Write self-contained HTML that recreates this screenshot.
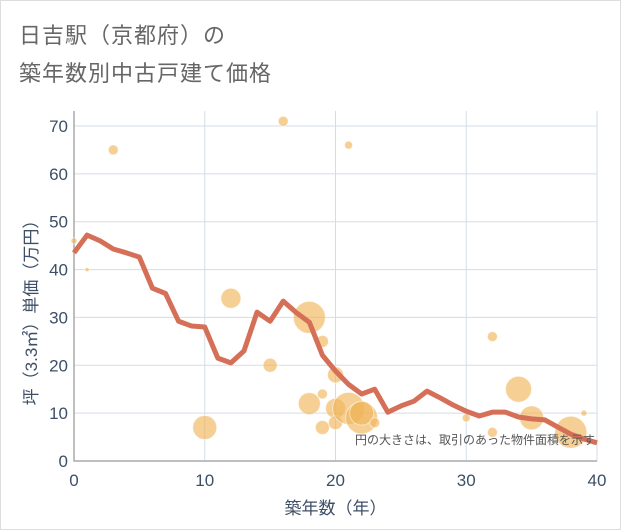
<!DOCTYPE html>
<html><head><meta charset="utf-8"><style>
body{margin:0;background:#fff;}
#wrap{position:relative;width:621px;height:530px;border:1px solid #ddd;box-sizing:border-box;font-family:"Liberation Sans","Noto Sans CJK JP",sans-serif;}
.t{position:absolute;left:18px;font-size:22px;color:#666;letter-spacing:1px;}
</style></head><body>
<div id="wrap">
<div class="t" style="top:17px">日吉駅（京都府）の</div>
<div class="t" style="top:55px">築年数別中古戸建て価格</div>
<svg id="c" width="621" height="530" style="position:absolute;left:0;top:0"></svg>
</div>
<script>
const lineYears=[0,1,2,3,4,5,6,7,8,9,10,11,12,13,14,15,16,17,18,19,20,21,22,23,24,25,26,27,28,29,30,31,32,33,34,35,36,37,38,39,40];
const lineValues=[43.5,47.2,46,44.3,43.5,42.6,36.1,35,29.2,28.2,28,21.5,20.5,23,31.1,29.2,33.4,31,29,22.1,18.8,16,14,15,10.2,11.5,12.5,14.6,13.2,11.7,10.4,9.4,10.2,10.2,9.2,8.8,8.6,7.1,5.6,4.6,3.8];
const bubbleX=[0,1,3,10,12,15,16,18,18,19,19,19,20,20,20,21,21,22,22,23,30,32,32,34,35,38,39];
const bubbleY=[46,40,65,7,34,20,71,30,12,25,14,7,18,11,8,66,11,9,10,8,9,26,6,15,9,6,10];
const bubbleR=[3,2,5,12,10,7,5,16,11,6,5,7,8,10,7,4,16,16,12,5,4,5,5,13,12,16,3];
const xTicks=[0,10,20,30,40];
const yTicks=[0,10,20,30,40,50,60,70];
const NS="http://www.w3.org/2000/svg";
const svg=document.getElementById('c');
const X0=73,X1=596,Y0=460,Y1=110;
const xs=v=>X0+(X1-X0)*v/40;
const ys=v=>Y0-(Y0-125)*v/70;
function mk(t,a){const e=document.createElementNS(NS,t);for(const k in a)e.setAttribute(k,a[k]);svg.appendChild(e);return e;}
yTicks.forEach(v=>{
 const l=mk('line',{x1:X0,x2:X1,y1:ys(v),y2:ys(v),stroke:'#d3dde8','stroke-width':1});
 
 
 const t=mk('text',{x:X0-6,y:ys(v)+6,'text-anchor':'end','font-size':17,fill:'#3d4f66'});t.textContent=v;
 
 
});
xTicks.forEach(v=>{
 const l=mk('line',{x1:xs(v),x2:xs(v),y1:Y1,y2:Y0,stroke:'#d3dde8','stroke-width':1});
 
 
 const t=mk('text',{x:xs(v),y:Y0+25,'text-anchor':'middle','font-size':17,fill:'#3d4f66'});t.textContent=v;
 
 
});
const ax=mk('path',{d:`M${X0} ${Y1}V${Y0}H${X1}`,stroke:'#aaa',fill:'none','stroke-width':1.5});


bubbleX.forEach((x,i)=>{
 const c=mk('circle',{cx:xs(x),cy:ys(bubbleY[i]),r:bubbleR[i],fill:'#efb55a','fill-opacity':0.65,stroke:'#fff','stroke-opacity':0.5});
 
 
});
const p=mk('polyline',{points:lineYears.map((x,i)=>xs(x)+','+ys(lineValues[i])).join(' '),fill:'none',stroke:'#d66f57','stroke-width':5,'stroke-linejoin':'round'});


const n=mk('text',{x:594,y:443,'text-anchor':'end','font-size':12,fill:'#555'});n.textContent='円の大きさは、取引のあった物件面積を示す';


const xt=mk('text',{x:(X0+X1)/2,y:513,'text-anchor':'middle','font-size':17,fill:'#3d4f66'});xt.textContent='築年数（年）';


const yt=mk('text',{x:0,y:0,'text-anchor':'middle','font-size':17,fill:'#3d4f66',transform:`translate(36,${(125+Y0)/2+15}) rotate(-90)`});yt.textContent='坪（3.3㎡）単価（万円）';


</script>
</body></html>
